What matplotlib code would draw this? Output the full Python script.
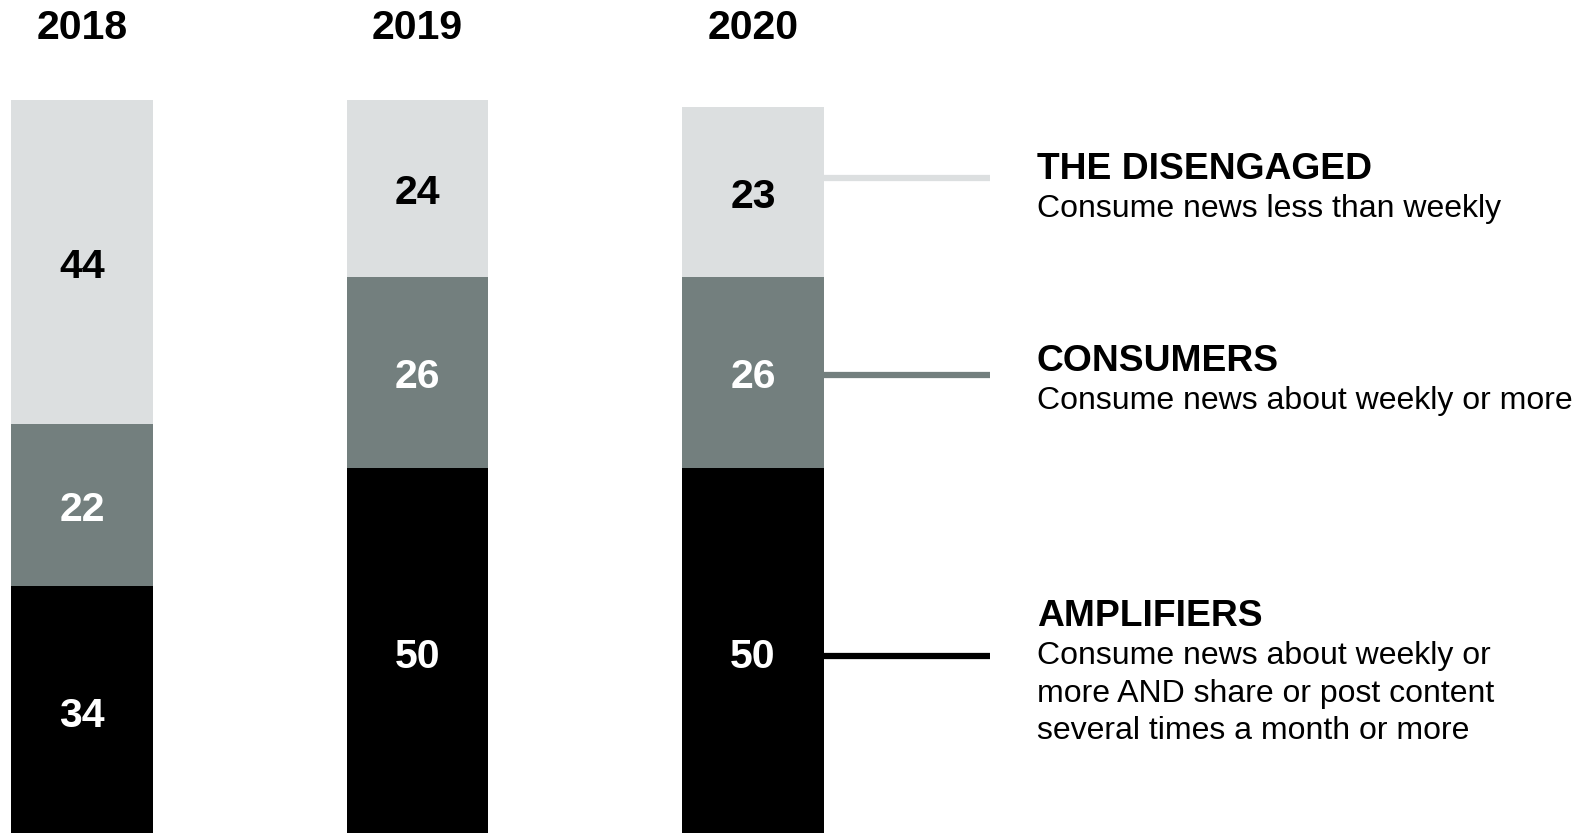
import numpy as np
import matplotlib
matplotlib.use('Agg')
import matplotlib.pyplot as plt

plt.rcParams['font.family'] = ['Liberation Sans', 'DejaVu Sans']

# Share of each audience segment per year (%)
years = ['2018', '2019', '2020']
amplifiers = [34, 50, 50]
consumers = [22, 26, 26]
disengaged = [44, 24, 23]

segment_titles = ['THE DISENGAGED', 'CONSUMERS', 'AMPLIFIERS']
segment_notes = ['Consume news less than weekly',
                 'Consume news about weekly or more',
                 'Consume news about weekly or\nmore AND share or post content\nseveral times a month or more']

light = '#DCDFE0'
mid = '#737F7E'
dark = '#000000'

fig = plt.figure(figsize=(15.81, 8.33), dpi=100)
ax = fig.add_axes([0, 0, 1, 1])
ax.set_xlim(-0.2444, 4.468)
ax.set_ylim(0.41, 113.6)
ax.axis('off')

x = np.arange(len(years))
w = 0.4232
amp = np.array(amplifiers)
con = np.array(consumers)
dis = np.array(disengaged)

ax.bar(x, amp, width=w, color=dark, linewidth=0)
ax.bar(x, con, width=w, bottom=amp, color=mid, linewidth=0)
ax.bar(x, dis, width=w, bottom=amp + con, color=light, linewidth=0)

# value labels in the middle of each segment (nudged so the digits sit centred)
nudge = 0.65
num_size = 29.5
for i in range(len(years)):
    ax.text(x[i], amp[i] / 2 - nudge, str(amp[i]), ha='center', va='center',
            color='white', fontsize=num_size, fontweight='bold')
    ax.text(x[i], amp[i] + con[i] / 2 - nudge, str(con[i]), ha='center', va='center',
            color='white', fontsize=num_size, fontweight='bold')
    ax.text(x[i], amp[i] + con[i] + dis[i] / 2 - nudge, str(dis[i]), ha='center', va='center',
            color='black', fontsize=num_size, fontweight='bold')
    ax.text(x[i], 109.8, years[i], ha='center', va='center',
            color='black', fontsize=num_size, fontweight='bold')

# legend on the right, tied to the last bar with short lines
line_y = [89.4, 62.6, 24.5]
line_colors = [light, mid, dark]
title_y = [89.3, 63.2, 28.5]
text_x = 2.846
for ly, lc, ty, t, note in zip(line_y, line_colors, title_y, segment_titles, segment_notes):
    ax.plot([x[-1] + w / 2, 2.706], [ly, ly], color=lc, linewidth=4.5,
            solid_capstyle='butt')
    ax.text(text_x, ty, t, ha='left', va='baseline', fontsize=26.8,
            fontweight='bold', color='black')
    ax.text(text_x, ty - 2.0, note, ha='left', va='top', fontsize=23,
            color='black', linespacing=1.33)

fig.savefig('out.png', dpi=100)
